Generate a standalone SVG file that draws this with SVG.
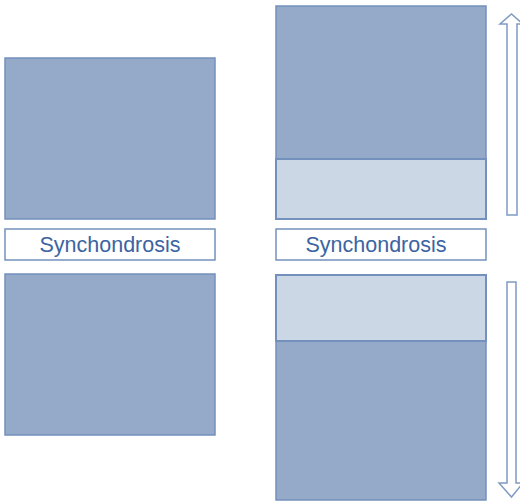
<svg xmlns="http://www.w3.org/2000/svg" width="520" height="501" viewBox="0 0 520 501">
  <style>
    .bone { fill: #94aac8; stroke: #7391bc; stroke-width: 1.5; }
    .cart { fill: #cbd7e5; stroke: #7391bc; stroke-width: 2; }
    .label-box { fill: #ffffff; stroke: #7391bc; stroke-width: 1.5; }
    .label { font-family: "Liberation Sans", Arial, sans-serif; font-size: 21.5px; fill: #3b64a2; text-anchor: middle; }
    .arrow { fill: #ffffff; stroke: #7f9bc2; stroke-width: 1.5; stroke-linejoin: miter; }
  </style>

  <!-- Left column: bones separated by synchondrosis -->
  <g id="left-upper-bone">
    <rect class="bone" x="5" y="58" width="210" height="161"/>
  </g>
  <g id="left-synchondrosis">
    <rect class="label-box" x="5" y="229" width="210" height="31"/>
    <text class="label" x="110" y="251.5">Synchondrosis</text>
  </g>
  <g id="left-lower-bone">
    <rect class="bone" x="5" y="274" width="210" height="161"/>
  </g>

  <!-- Right column: growing bones with cartilage zones -->
  <g id="right-upper-bone">
    <rect class="bone" x="276" y="6" width="210" height="213"/>
    <rect class="cart" x="276" y="159" width="210" height="60"/>
  </g>
  <g id="right-synchondrosis">
    <rect class="label-box" x="276" y="229" width="210" height="31"/>
    <text class="label" x="376" y="251.5">Synchondrosis</text>
  </g>
  <g id="right-lower-bone">
    <rect class="bone" x="276" y="275" width="210" height="225"/>
    <rect class="cart" x="276" y="275" width="210" height="66"/>
  </g>

  <!-- Growth direction arrows -->
  <g id="connectors">
    <path class="arrow" d="M507,215 L507,24 L500,24 L511.5,14 L523,24 L517,24 L517,215 Z"/>
    <path class="arrow" d="M507,282 L516,282 L516,483 L523,483 L511.5,497 L499,483 L507,483 Z"/>
  </g>
</svg>
